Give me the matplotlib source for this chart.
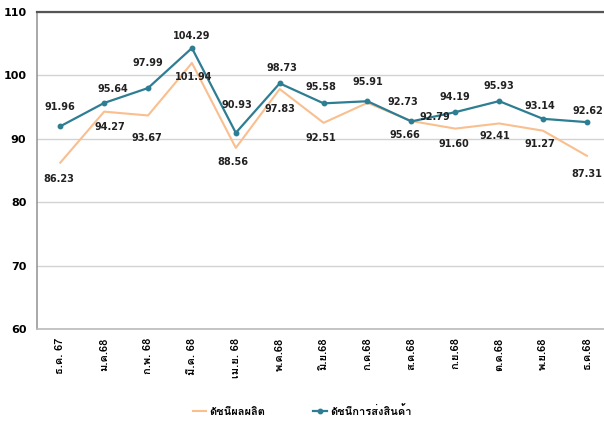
import matplotlib
matplotlib.use('Agg')
from matplotlib import pyplot as plt

plt.rcParams['font.family'] = ['Loma', 'DejaVu Sans']

months = ['ธ.ค. 67', 'ม.ค.68', 'ก.พ. 68', 'มี.ค. 68', 'เม.ย. 68', 'พ.ค.68', 'มิ.ย.68',
          'ก.ค.68', 'ส.ค.68', 'ก.ย.68', 'ต.ค.68', 'พ.ย.68', 'ธ.ค.68']
production = [86.23, 94.27, 93.67, 101.94, 88.56, 97.83, 92.51, 95.66, 92.79, 91.60, 92.41, 91.27, 87.31]
shipment = [91.96, 95.64, 97.99, 104.29, 90.93, 98.73, 95.58, 95.91, 92.73, 94.19, 95.93, 93.14, 92.62]

# label offsets (points) as placed in the original
prod_off = [(-1, -12), (4, -11), (-1, -16), (1, -10), (-2, -10), (0, -14), (-2, -11),
            (27, -23), (17, 3), (-1, -11), (-3, -9), (-2, -9.5), (0, -13)]
ship_off = [(0, 14), (6, 10), (0, 18), (0, 9), (1, 20), (1.5, 11), (-2, 12),
            (0, 14), (-6, 14), (0, 11), (0, 11), (-2, 9.5), (1, 8)]

orange = '#f9bf8f'
blue = '#2d7d93'

fig = plt.figure(figsize=(6.04, 4.22), dpi=100)
ax = fig.add_axes([0.062, 0.22, 0.938, 0.752])
x = list(range(len(months)))

ax.plot(x, production, color=orange, lw=1.5, label='ดัชนีผลผลิต')
ax.plot(x, shipment, color=blue, lw=1.6, marker='o', ms=3.2, label='ดัชนีการส่งสินค้า')

for i in x:
    ax.annotate(f'{production[i]:.2f}', (i, production[i]), xytext=prod_off[i],
                textcoords='offset points', ha='center', va='center',
                fontsize=7, fontweight='bold', family='DejaVu Sans', color='#222222')
    ax.annotate(f'{shipment[i]:.2f}', (i, shipment[i]), xytext=ship_off[i],
                textcoords='offset points', ha='center', va='center',
                fontsize=7, fontweight='bold', family='DejaVu Sans', color='#222222')

ax.set_ylim(60, 110)
ax.set_yticks([60, 70, 80, 90, 100, 110])
ax.set_xlim(-0.52, 12.39)
ax.set_xticks(x)
ax.set_xticklabels(months, rotation=90, fontsize=8, fontweight='bold')
ax.tick_params(axis='y', labelsize=8, length=0, pad=8)
ax.tick_params(axis='x', length=0, pad=6)
for lab in ax.get_yticklabels():
    lab.set_fontweight('bold')
    lab.set_family('DejaVu Sans')

ax.grid(axis='y', color='#d2d2d2', lw=1)
ax.set_axisbelow(True)
ax.spines['right'].set_visible(False)
ax.spines['top'].set_color('#555555')
ax.spines['top'].set_linewidth(1.6)
ax.spines['left'].set_color('#999999')
ax.spines['left'].set_linewidth(1.2)
ax.spines['bottom'].set_color('#bbbbbb')
ax.spines['bottom'].set_linewidth(1.2)

ax.legend(loc='upper center', bbox_to_anchor=(0.467, -0.207), ncol=2, frameon=False,
          handlelength=1.2, handletextpad=0.3, columnspacing=4.3,
          prop={'weight': 'bold', 'size': 8})

fig.savefig('out.png')
